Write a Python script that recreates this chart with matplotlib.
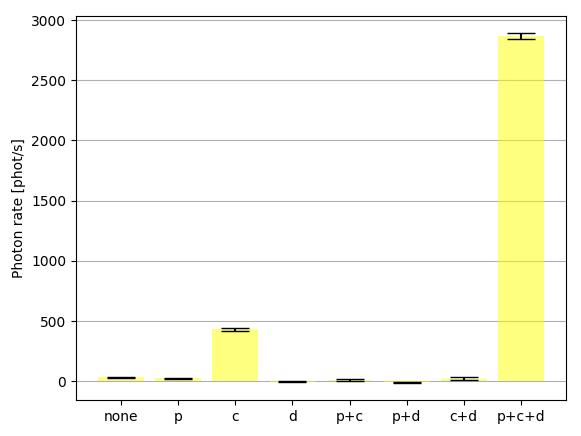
import matplotlib
matplotlib.use("Agg")
import matplotlib.pyplot as plt

categories = ["none", "p", "c", "d", "p+c", "p+d", "c+d", "p+c+d"]
rates = [33, 26, 430, -3, 10, -8, 20, 2866]
errors = [3, 4, 12, 2, 12, 3, 12, 23]

fig = plt.figure(figsize=(5.81, 4.36), dpi=100)
ax = fig.add_axes([76/581, 36/436, 490/581, 384/436])
ax.bar(range(len(categories)), rates, yerr=errors, color="yellow", alpha=0.5,
       capsize=10, ecolor="black", width=0.8, zorder=2)
ax.set_xticks(range(len(categories)))
ax.set_xticklabels(categories)
ax.set_ylabel("Photon rate [phot/s]")
ax.yaxis.grid(True, color="#b0b0b0", zorder=0)
ax.set_axisbelow(True)
fig.savefig("out.png", dpi=100)
